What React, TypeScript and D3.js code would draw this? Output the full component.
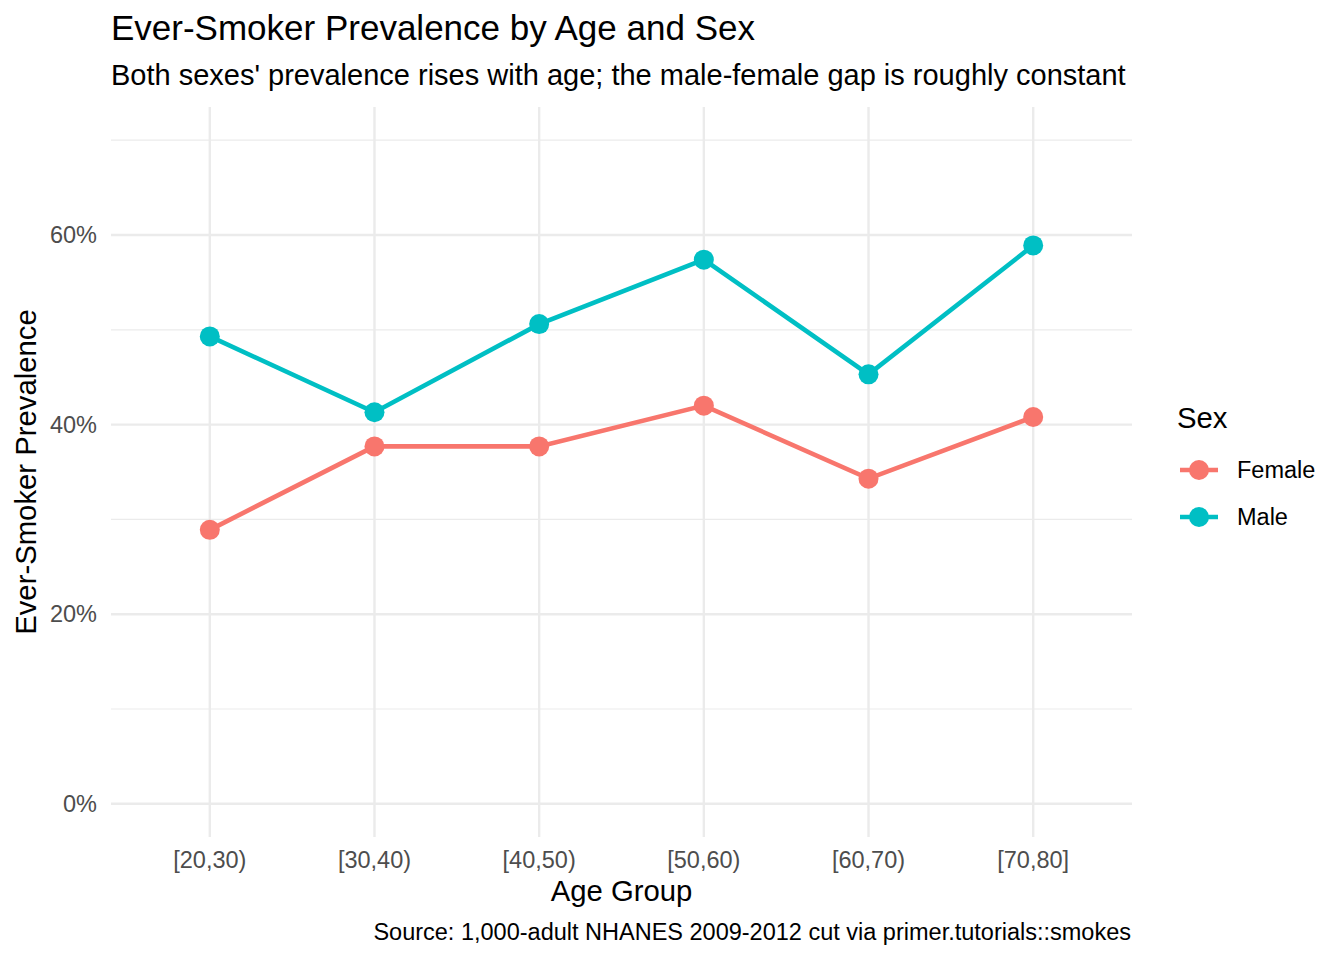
import * as d3 from "d3";

const AGE_GROUPS = ["[20,30)", "[30,40)", "[40,50)", "[50,60)", "[60,70)", "[70,80]"];
const FEMALE = [0.289, 0.377, 0.377, 0.42, 0.343, 0.408];
const MALE = [0.493, 0.413, 0.506, 0.574, 0.453, 0.589];
const SEXES = ["Female", "Male"];
const COLORS = ["#F8766D", "#00BFC4"];
const Y_TICKS = [0, 0.2, 0.4, 0.6];
const Y_MINOR = [0.1, 0.3, 0.5, 0.7];

const W = 1344;
const H = 960;
const PANEL = { left: 111, right: 1132, top: 107, bottom: 837 };
const FONT = "'Liberation Sans', Arial, sans-serif";

export default function App() {
    const x = d3.scalePoint<string>().domain(AGE_GROUPS).range([PANEL.left, PANEL.right]).padding(0.6);
    const y = d3.scaleLinear().domain([-0.035, 0.735]).range([PANEL.bottom, PANEL.top]);

    const line = d3
        .line<number>()
        .x((_, i) => x(AGE_GROUPS[i]) as number)
        .y((d) => y(d));

    const series = [FEMALE, MALE];

    return (
        <svg width={W} height={H} style={{ position: "absolute", left: 0, top: 0 }} fontFamily={FONT}>
            <rect width={W} height={H} fill="#fff" />
            {/* minor grid */}
            {Y_MINOR.map((t) => (
                <line key={"m" + t} x1={PANEL.left} x2={PANEL.right} y1={y(t)} y2={y(t)} stroke="#ebebeb" strokeWidth={1.2} />
            ))}
            {/* major grid */}
            {Y_TICKS.map((t) => (
                <line key={"y" + t} x1={PANEL.left} x2={PANEL.right} y1={y(t)} y2={y(t)} stroke="#ebebeb" strokeWidth={2.4} />
            ))}
            {AGE_GROUPS.map((g) => (
                <line key={"x" + g} x1={x(g)} x2={x(g)} y1={PANEL.top} y2={PANEL.bottom} stroke="#ebebeb" strokeWidth={2.4} />
            ))}
            {/* y tick labels */}
            {Y_TICKS.map((t) => (
                <text key={"yl" + t} x={97} y={y(t)} dy="0.35em" textAnchor="end" fontSize={23.5} fill="#4d4d4d">
                    {d3.format(".0%")(t)}
                </text>
            ))}
            {/* x tick labels */}
            {AGE_GROUPS.map((g) => (
                <text key={"xl" + g} x={x(g)} y={868} textAnchor="middle" fontSize={23.5} fill="#4d4d4d">
                    {g}
                </text>
            ))}
            {/* lines and points */}
            {series.map((s, k) => (
                <g key={SEXES[k]}>
                    <path d={line(s) || ""} fill="none" stroke={COLORS[k]} strokeWidth={4.6} />
                    {s.map((v, i) => (
                        <circle key={i} cx={x(AGE_GROUPS[i])} cy={y(v)} r={10} fill={COLORS[k]} />
                    ))}
                </g>
            ))}
            {/* titles */}
            <text x={111} y={40} fontSize={35} fill="#000">Ever-Smoker Prevalence by Age and Sex</text>
            <text x={111} y={85} fontSize={29} fill="#000">Both sexes' prevalence rises with age; the male-female gap is roughly constant</text>
            <text x={(PANEL.left + PANEL.right) / 2} y={901} textAnchor="middle" fontSize={29.3} fill="#000">Age Group</text>
            <text transform={`translate(36,${(PANEL.top + PANEL.bottom) / 2}) rotate(-90)`} textAnchor="middle" fontSize={29.3} fill="#000">
                Ever-Smoker Prevalence
            </text>
            <text x={1131} y={940} textAnchor="end" fontSize={23.5} fill="#000">
                Source: 1,000-adult NHANES 2009-2012 cut via primer.tutorials::smokes
            </text>
            {/* legend */}
            <text x={1177} y={428} fontSize={29.3} fill="#000">Sex</text>
            {SEXES.map((s, k) => (
                <g key={"lg" + s} transform={`translate(0,${470 + k * 47})`}>
                    <line x1={1180} x2={1218} y1={0} y2={0} stroke={COLORS[k]} strokeWidth={4.6} />
                    <circle cx={1199} cy={0} r={10} fill={COLORS[k]} />
                    <text x={1237} y={0} dy="0.35em" fontSize={23.5} fill="#000">{s}</text>
                </g>
            ))}
        </svg>
    );
}
